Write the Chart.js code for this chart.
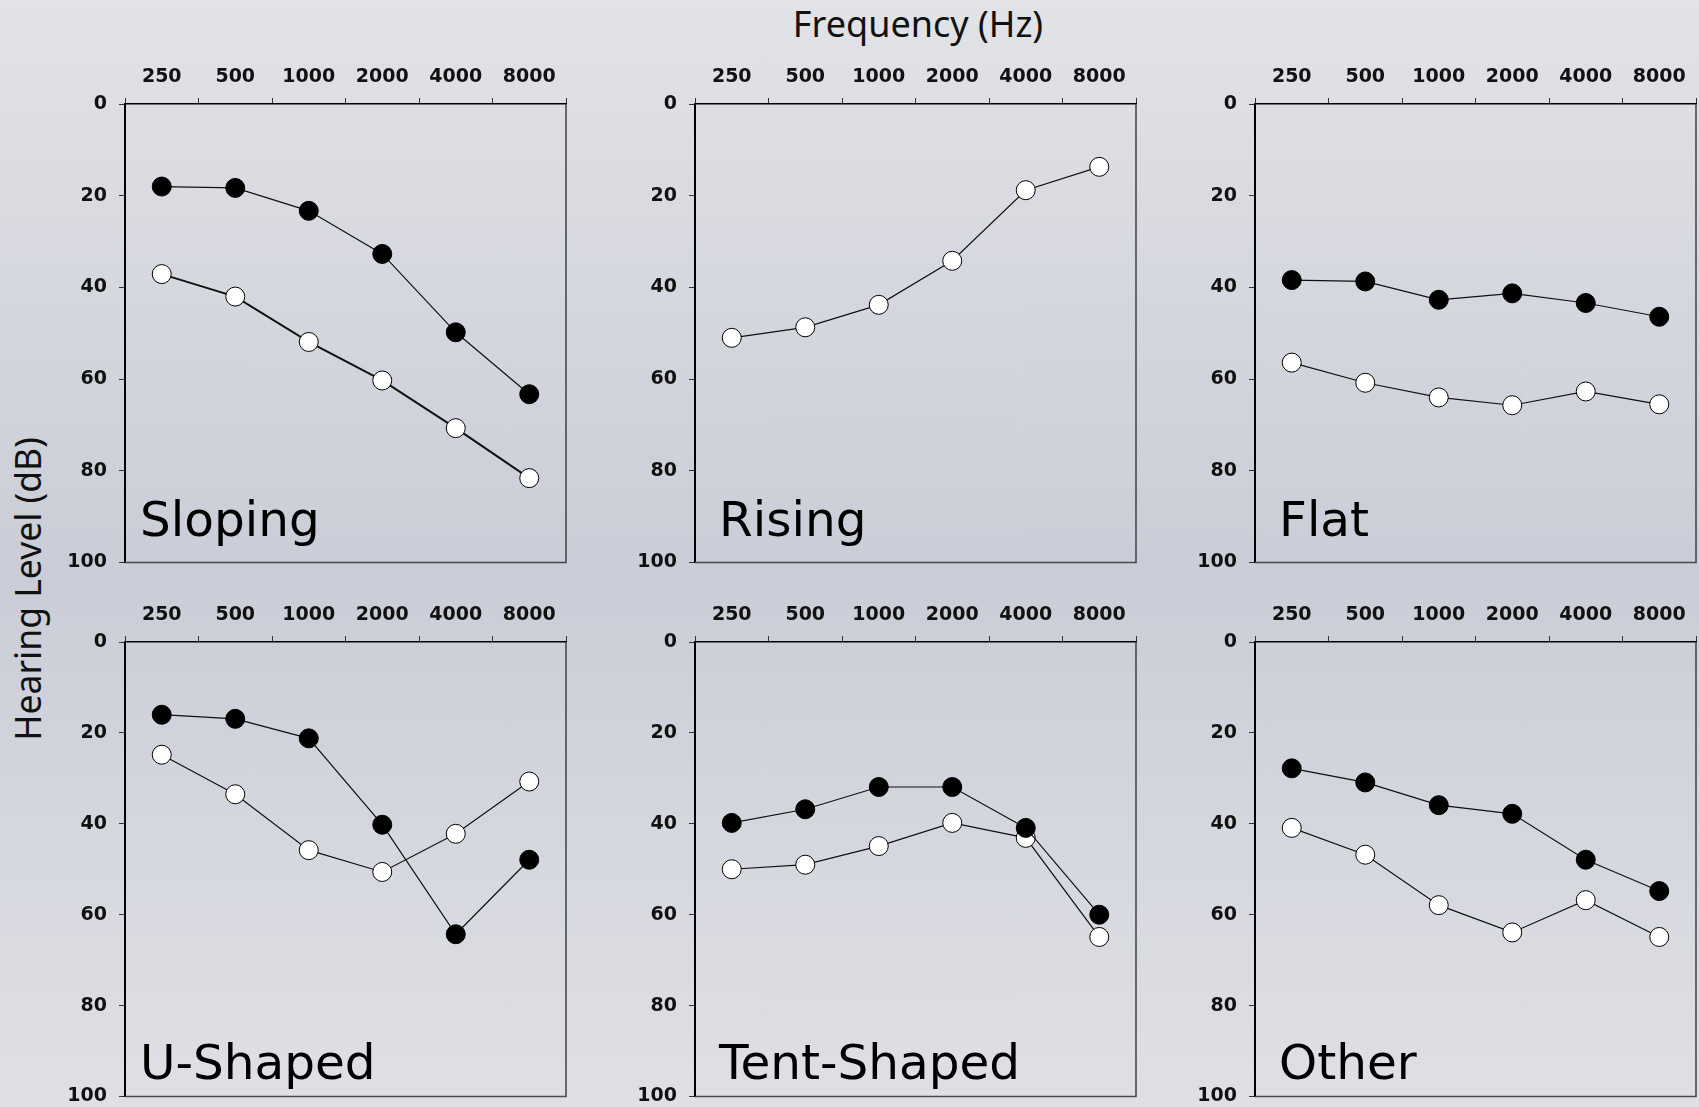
<!DOCTYPE html>
<html>
<head>
<meta charset="utf-8">
<script src="https://cdn.jsdelivr.net/npm/chart.js@4/dist/chart.umd.min.js"></script>
<style>
  html, body { margin:0; padding:0; width:1699px; height:1107px; overflow:hidden; }
  body {
    background: linear-gradient(to bottom, #e2e3e7 0%, #d6d8df 25%, #cacdd7 52%, #d6d8df 78%, #dee0e5 100%);
    position: relative;
  }
  canvas { position:absolute; }
  .title { position:absolute; font-family:"Noto Sans", sans-serif; font-size:36px; line-height:36px; color:#111; white-space:nowrap; }
</style>
</head>
<body>
<div class="title" id="xTitle">Frequency (Hz)</div>
<div class="title" id="yTitle" style="font-size:35.5px">Hearing Level (dB)</div>
<canvas id="c0" width="533" height="530"></canvas>
<canvas id="c1" width="533" height="530"></canvas>
<canvas id="c2" width="533" height="530"></canvas>
<canvas id="c3" width="533" height="525"></canvas>
<canvas id="c4" width="533" height="525"></canvas>
<canvas id="c5" width="533" height="525"></canvas>
<script>
// ---------- data ----------
const frequencies = ['250', '500', '1000', '2000', '4000', '8000'];
const panelNames = ['Sloping', 'Rising', 'Flat', 'U-Shaped', 'Tent-Shaped', 'Other'];

const slopingFilled = [18, 18.3, 23.3, 32.7, 49.8, 63.3];
const slopingOpen   = [37.1, 42, 51.9, 60.3, 70.7, 81.6];
const risingFilled  = [];
const risingOpen    = [51, 48.7, 43.8, 34.2, 18.8, 13.7];
const flatFilled    = [38.4, 38.7, 42.7, 41.3, 43.4, 46.4];
const flatOpen      = [56.4, 60.8, 64, 65.7, 62.7, 65.5];
const uFilled       = [16, 16.9, 21.2, 40.2, 64.3, 47.9];
const uOpen         = [24.8, 33.5, 45.8, 50.6, 42.2, 30.7];
const tentFilled    = [39.8, 36.8, 31.9, 31.9, 40.9, 60];
const tentOpen      = [50, 49, 44.9, 39.8, 43.1, 64.9];
const otherFilled   = [27.8, 30.9, 35.9, 37.8, 47.9, 54.8];
const otherOpen     = [40.9, 46.8, 57.9, 63.9, 56.8, 64.9];

const filledSeries = [slopingFilled, risingFilled, flatFilled, uFilled, tentFilled, otherFilled];
const openSeries   = [slopingOpen, risingOpen, flatOpen, uOpen, tentOpen, otherOpen];

// ---------- layout ----------
const plotLefts = [125, 695, 1255];
const plotTops = [104, 642];
const plotW = 441;
const plotHs = [458.5, 454];
const axisW = 80, axisH = 60;

document.getElementById('xTitle').style.cssText += 'left:918px;top:6px;transform:translateX(-50%);';
document.getElementById('yTitle').style.cssText += 'left:27px;top:589px;transform:translate(-50%,-50%) rotate(-90deg);';

const boxPlugin = {
  id: 'box',
  beforeDatasetsDraw(chart, args, opts) {
    const ctx = chart.ctx, a = chart.chartArea;
    ctx.save();
    ctx.fillStyle = '#000';
    ctx.font = '48.5px "DejaVu Sans"';
    ctx.textBaseline = 'alphabetic';
    ctx.textAlign = 'left';
    ctx.fillText(opts.text, a.left + opts.dx, a.bottom - opts.dy);
    ctx.restore();
  },
  afterDraw(chart) {
    const ctx = chart.ctx, a = chart.chartArea;
    ctx.save();
    ctx.strokeStyle = '#4a4a4a';
    ctx.lineWidth = 1.6;
    ctx.beginPath();
    ctx.moveTo(a.right, a.top);
    ctx.lineTo(a.right, a.bottom);
    ctx.lineTo(a.left, a.bottom);
    ctx.stroke();
    ctx.restore();
  }
};

const xTickFont = { family: '"DejaVu Sans"', weight: 'bold', size: 19, lineHeight: 1.2 };
const yTickFont = { family: '"DejaVu Sans"', weight: 'bold', size: 19, lineHeight: 1 };

function makeConfig(i) {
  const col = i % 3, row = Math.floor(i / 3);
  const datasets = [];
  if (filledSeries[i].length) {
    datasets.push({
      data: filledSeries[i],
      borderColor: '#111', borderWidth: 1.2,
      pointRadius: 9.5, pointHoverRadius: 9.5, pointBorderWidth: 1, pointBorderColor: '#000', pointBackgroundColor: '#000',
      pointStyle: 'circle', fill: false, tension: 0
    });
  }
  datasets.push({
    data: openSeries[i],
    borderColor: '#111', borderWidth: (i === 0 ? 2 : 1.2),
    pointRadius: 9.5, pointHoverRadius: 9.5, pointBorderWidth: 1, pointBorderColor: '#000', pointBackgroundColor: '#fff',
    pointStyle: 'circle', fill: false, tension: 0
  });
  return {
    type: 'line',
    data: { labels: frequencies, datasets },
    plugins: [boxPlugin],
    options: {
      responsive: false, maintainAspectRatio: false, animation: false, devicePixelRatio: 1,
      layout: { autoPadding: false, padding: { left: 0, right: 12, top: 0, bottom: 0 } },
      plugins: {
        legend: { display: false }, tooltip: { enabled: false },
        box: { text: panelNames[i], dx: col === 0 ? 15 : 24, dy: row === 0 ? 27 : 18 }
      },
      scales: {
        x: {
          type: 'category', position: 'top', offset: true,
          grid: { offset: true, drawOnChartArea: false, drawTicks: true, tickLength: 6, color: '#333', lineWidth: 1 },
          border: { display: true, color: '#000', width: 1.5 },
          ticks: { font: xTickFont, color: '#111', padding: 10, maxRotation: 0, autoSkip: false },
          afterFit: s => { s.height = axisH; }
        },
        y: {
          type: 'linear', reverse: true, min: 0, max: 100,
          grid: { drawOnChartArea: false, drawTicks: true, tickLength: 6, color: '#333', lineWidth: 1 },
          border: { display: true, color: '#000', width: 2 },
          ticks: { stepSize: 20, font: yTickFont, color: '#111', padding: 12 },
          afterFit: s => { s.width = axisW; }
        }
      }
    }
  };
}

for (let i = 0; i < 6; i++) {
  const col = i % 3, row = Math.floor(i / 3);
  const cv = document.getElementById('c' + i);
  let chart = new Chart(cv, makeConfig(i));
  let a = chart.chartArea;
  const padL = a.left, padT = a.top, padR = chart.width - a.right, padB = chart.height - a.bottom;
  const W = Math.round(padL + plotW + padR), H = Math.round(padT + plotHs[row] + padB);
  if (W !== chart.width || H !== chart.height) {
    chart.destroy();
    cv.width = W; cv.height = H;
    chart = new Chart(cv, makeConfig(i));
    a = chart.chartArea;
  }
  cv.style.position = 'absolute';
  cv.style.left = (plotLefts[col] - a.left) + 'px';
  cv.style.top = (plotTops[row] - a.top) + 'px';
}
</script>
</body>
</html>
